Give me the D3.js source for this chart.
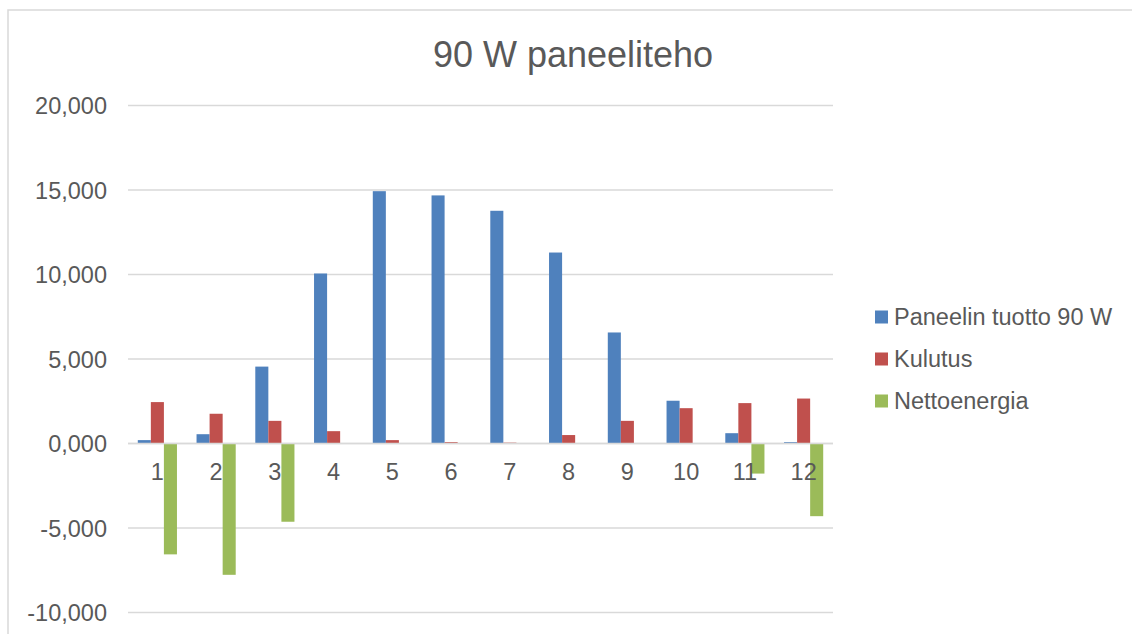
<!DOCTYPE html>
<html>
<head>
<meta charset="utf-8">
<script src="https://cdn.jsdelivr.net/npm/d3@7"></script>
<style>
  html, body { margin: 0; padding: 0; background: #ffffff; }
  svg { display: block; }
  text { font-family: "Liberation Sans", Arial, sans-serif; fill: #595959; }
</style>
</head>
<body>
<svg id="chart" width="1132" height="634"></svg>
<script>
// Monthly energy figures for a 90 W panel (kWh)
const months = ["1", "2", "3", "4", "5", "6", "7", "8", "9", "10", "11", "12"];
const seriesNames = ["Paneelin tuotto 90 W", "Kulutus", "Nettoenergia"];
const seriesColors = ["#4f81bd", "#c0504d", "#9bbb59"];
const tuotto = [0.20, 0.55, 4.55, 10.06, 14.93, 14.68, 13.77, 11.30, 6.57, 2.53, 0.61, 0.08];
const kulutus = [2.45, 1.76, 1.34, 0.73, 0.20, 0.08, 0.05, 0.50, 1.34, 2.09, 2.39, 2.66];
const netto = [-6.56, -7.77, -4.63, 0, 0, 0, 0, 0, 0, 0, -1.78, -4.30];
const yTicks = [-10, -5, 0, 5, 10, 15, 20];
const chartTitle = "90 W paneeliteho";

const seriesValues = [tuotto, kulutus, netto];

const svg = d3.select("#chart");

// Chart frame
svg.append("rect")
  .attr("x", 8).attr("y", 10)
  .attr("width", 1300).attr("height", 800)
  .attr("fill", "none")
  .attr("stroke", "#d9d9d9")
  .attr("stroke-width", 1.5);

const plot = { left: 128, right: 833, top: 105.5, bottom: 612.5 };

const x0 = d3.scaleBand()
  .domain(months)
  .range([plot.left, plot.right])
  .paddingInner(1 / 3)
  .paddingOuter(1 / 6);

const x1 = d3.scaleBand()
  .domain(seriesNames)
  .range([0, x0.bandwidth()]);

const y = d3.scaleLinear()
  .domain([-10, 20])
  .range([plot.bottom, plot.top]);

const fmt = v => d3.format(".3f")(v).replace("−", "-").replace(".", ",");
const fmtTick = v => {
  const s = Math.abs(v).toFixed(3).split(".");
  const intPart = s[0].replace(/\B(?=(\d{3})+(?!\d))/g, ".");
  return (v < 0 ? "-" : "") + intPart + "," + s[1];
};

// Horizontal gridlines
svg.append("g")
  .selectAll("line")
  .data(yTicks)
  .join("line")
  .attr("x1", plot.left).attr("x2", plot.right)
  .attr("y1", d => y(d)).attr("y2", d => y(d))
  .attr("stroke", "#d9d9d9")
  .attr("stroke-width", 1.5);

// Y axis labels
const yAxis = d3.axisLeft(y)
  .tickValues(yTicks)
  .tickSize(0)
  .tickPadding(0)
  .tickFormat(fmtTick);

const yg = svg.append("g")
  .attr("transform", `translate(107,0)`)
  .call(yAxis);
yg.select(".domain").remove();
yg.selectAll("text")
  .style("font-size", "23.5px")
  .style("font-family", '"Liberation Sans", Arial, sans-serif')
  .attr("fill", "#595959")
  .attr("dy", "0.36em");

// Bars
const groups = svg.append("g")
  .selectAll("g")
  .data(months)
  .join("g")
  .attr("transform", d => `translate(${x0(d)},0)`);

groups.selectAll("rect")
  .data((m, i) => seriesNames.map((s, k) => ({ s, k, v: seriesValues[k][i] })))
  .join("rect")
  .attr("x", d => x1(d.s))
  .attr("width", x1.bandwidth())
  .attr("y", d => y(Math.max(0, d.v)))
  .attr("height", d => Math.abs(y(d.v) - y(0)))
  .attr("fill", d => seriesColors[d.k]);

// Category axis line at zero
svg.append("line")
  .attr("x1", plot.left).attr("x2", plot.right)
  .attr("y1", y(0)).attr("y2", y(0))
  .attr("stroke", "#d9d9d9")
  .attr("stroke-width", 1.5);

// Category labels
const xAxis = d3.axisBottom(x0).tickSize(0).tickPadding(0);
const xg = svg.append("g")
  .attr("transform", `translate(0,480)`)
  .call(xAxis);
xg.select(".domain").remove();
xg.selectAll("text")
  .style("font-size", "23.5px")
  .style("font-family", '"Liberation Sans", Arial, sans-serif')
  .attr("fill", "#595959")
  .attr("dy", "0");

// Title
svg.append("text")
  .attr("x", 573).attr("y", 66.5)
  .attr("text-anchor", "middle")
  .style("font-size", "36px")
  .text(chartTitle);

// Legend
const legendY = [317, 359, 401];
const legend = svg.append("g")
  .selectAll("g")
  .data(seriesNames)
  .join("g")
  .attr("transform", (d, i) => `translate(875,${legendY[i]})`);

legend.append("rect")
  .attr("x", 0).attr("y", -6.5)
  .attr("width", 13).attr("height", 13)
  .attr("fill", (d, i) => seriesColors[i]);

legend.append("text")
  .attr("x", 19).attr("y", 0)
  .attr("dy", "0.36em")
  .style("font-size", "23.5px")
  .text(d => d);
</script>
</body>
</html>
